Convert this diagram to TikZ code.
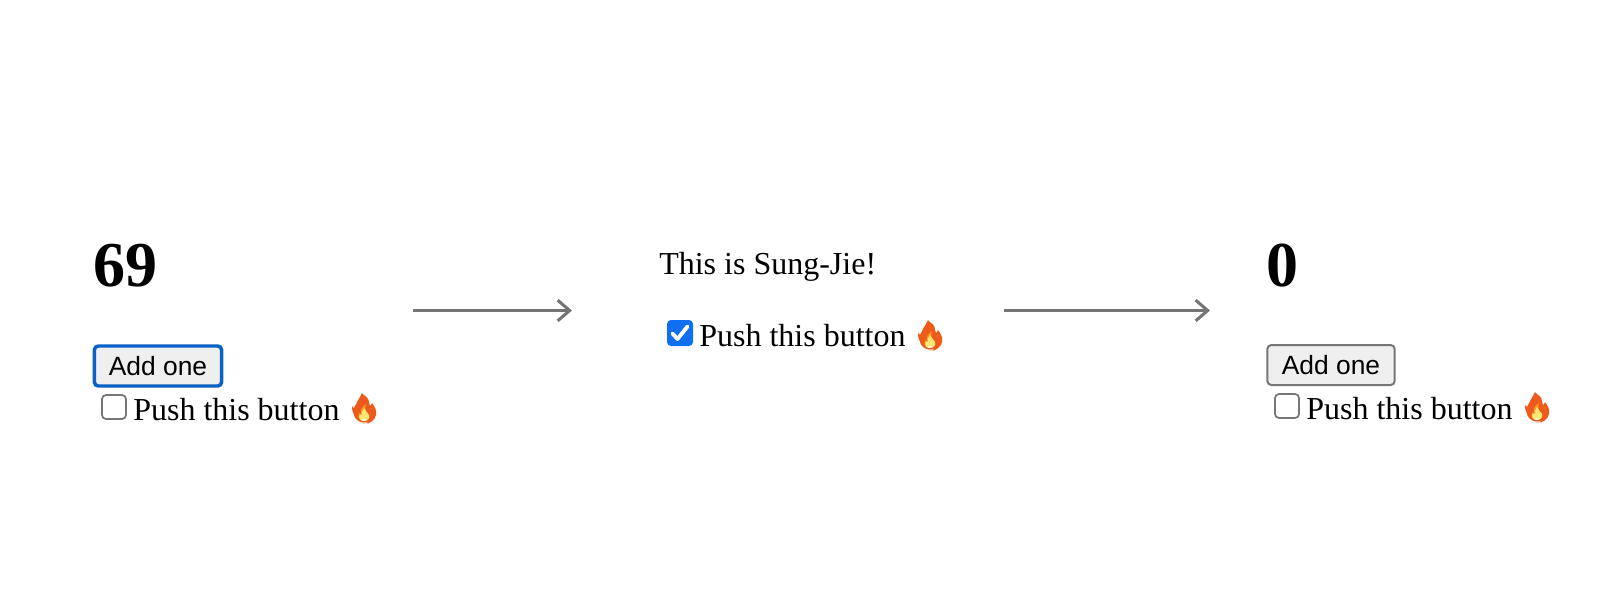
\documentclass[tikz,border=0pt]{standalone}
\usepackage{fontspec}
\usetikzlibrary{arrows.meta}
\setmainfont{Liberation Serif}
\newfontfamily\btnfont{Liberation Sans}
\newfontfamily\emojifont{Noto Emoji}
\definecolor{arrowgray}{HTML}{757575}
\definecolor{boxgray}{HTML}{767676}
\definecolor{btnfill}{HTML}{EFEFEF}
\definecolor{focusblue}{HTML}{0B62C4}
\definecolor{checkblue}{HTML}{0F6FF0}
\definecolor{flamered}{HTML}{EE5A1C}
\definecolor{flameorange}{HTML}{FA9A1E}
\definecolor{flameyellow}{HTML}{FFE871}
\tikzset{
  numlabel/.style={anchor=base west,inner sep=0pt,font=\fontsize{48}{50}\selectfont\bfseries},
  textlabel/.style={anchor=base west,inner sep=0pt,font=\fontsize{24}{26}\selectfont},
  btn/.style={draw=boxgray,line width=1.5pt,fill=btnfill,rounded corners=3pt,inner sep=0pt,
    minimum width=95.5pt,minimum height=30pt,font=\btnfont\fontsize{19.8}{22}\selectfont},
  btnfocus/.style={btn,draw=focusblue,line width=2.6pt},
  checkoff/.style={draw=boxgray,line width=1.3pt,fill=white,rounded corners=3pt,inner sep=0pt,minimum size=18pt},
  checkon/.style={fill=checkblue,rounded corners=3pt,inner sep=0pt,minimum size=19.5pt},
  firetext/.style={anchor=base,inner sep=0pt,text=flamered,font=\emojifont\fontsize{20}{20}\selectfont},
  flowarrow/.style={draw=arrowgray,line width=2pt,-{Straight Barb[length=9pt,width=15.5pt,line width=2.3pt]}},
  flame/.pic={
    \fill[flamered] (0,16) .. controls (-3,14) and (-13,7) .. (-12,-2)
      .. controls (-11,-1) and (-10,0) .. (-9,1)
      .. controls (-9,-5) and (-4,-10) .. (-2,-15)
      .. controls (2,-11) and (5,-7) .. (6,-2)
      .. controls (7,-3) and (8,-4) .. (8,-5)
      .. controls (11,-1) and (13,3) .. (12,7)
      .. controls (11,12) and (6,16) .. (0,16) -- cycle;
    \fill[flameorange] (0,15) .. controls (-6,14) and (-10,8) .. (-8,3)
      .. controls (-7,4) and (-6,4) .. (-5,4)
      .. controls (-5,-1) and (-2,-4) .. (0,-8)
      .. controls (3,-5) and (4,-1) .. (4,3)
      .. controls (6,2) and (7,1) .. (8,0)
      .. controls (10,6) and (6,14) .. (0,15) -- cycle;
    \fill[flameyellow] (0,15) .. controls (-4,14) and (-6,10) .. (-4,6)
      .. controls (-2,4) and (-1,2) .. (0,0)
      .. controls (2,2) and (4,5) .. (5,7)
      .. controls (6,11) and (4,14) .. (0,15) -- cycle;
    \fill[white,opacity=.7] (0,14) circle (3.5);
  },
}
\begin{document}
\begin{tikzpicture}[x=0.75pt,y=-0.75pt]
  \useasboundingbox (0,0) rectangle (1616,590);
  % first screen
  \draw
    (93,286) node[numlabel] (count1){69}
    (158,366) node[btnfocus] (add1){Add one}
    (114,407) node[checkoff] (box1){}
    (133,420) node[textlabel] (push1){Push this button};
  \pic at (364,408) {flame};
  \node[firetext] (fire1) at (364,418) {🔥};
  % second screen
  \draw
    (659,274) node[textlabel] (title2){This is Sung-Jie!}
    (680,333) node[checkon] (box2){}
    (699,346.5) node[textlabel] (push2){Push this button};
  \draw[white,line width=2.9pt,line cap=round,line join=round]
    (672.5,333.5) -- (677.5,339) -- (687.5,326.5);
  \pic at (930,335) {flame};
  \node[firetext] (fire2) at (930,345) {🔥};
  % third screen
  \draw
    (1266,286) node[numlabel] (count3){0}
    (1331,365) node[btn] (add3){Add one}
    (1287,406) node[checkoff] (box3){}
    (1306,419) node[textlabel] (push3){Push this button};
  \pic at (1537,407) {flame};
  \node[firetext] (fire3) at (1537,417) {🔥};
  % arrows
  \coordinate (from1) at (413,310.5);
  \coordinate (to1) at (572,310.5);
  \coordinate (from2) at (1004,310.5);
  \coordinate (to2) at (1210,310.5);
  \begin{scope}[flowarrow]
    \draw (from1) to (to1);
    \draw (from2) to (to2);
  \end{scope}
\end{tikzpicture}
\end{document}
